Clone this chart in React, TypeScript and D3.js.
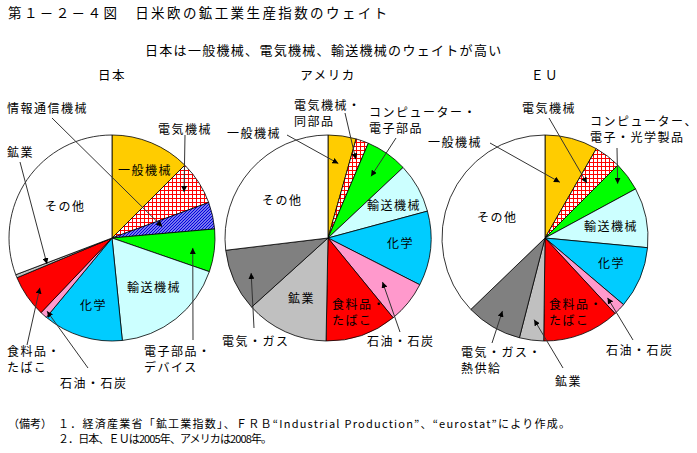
import React from 'react';
import * as d3 from 'd3';

// ---------- data ----------
const japanCategories = ['一般機械', '電気機械', '情報通信機械', '電子部品・デバイス', '輸送機械', '化学', '石油・石炭', '食料品・たばこ', '鉱業', 'その他'];
const japanValues = [12.5, 6.9, 4.2, 6.7, 18.1, 12.6, 1.1, 6.6, 0.5, 30.8];

const usCategories = ['一般機械', '電気機械・同部品', 'コンピューター・電子部品', '輸送機械', '化学', '石油・石炭', '食料品・たばこ', '鉱業', '電気・ガス', 'その他'];
const usValues = [4.4, 2.0, 6.6, 7.8, 11.7, 6.6, 11.2, 13.0, 9.8, 26.9];

const euCategories = ['一般機械', '電気機械', 'コンピューター、電子・光学製品', '輸送機械', '化学', '石油・石炭', '食料品・たばこ', '鉱業', '電気・ガス・熱供給', 'その他'];
const euValues = [8.3, 4.2, 4.6, 9.4, 9.7, 1.9, 12.1, 3.8, 8.8, 37.2];

const pieTitles = ['日本', 'アメリカ', 'ＥＵ'];
const chartTitle = '第１－２－４図　日米欧の鉱工業生産指数のウェイト';
const chartSubtitle = '日本は一般機械、電気機械、輸送機械のウェイトが高い';
const noteLines = [
  '１．経済産業省「鉱工業指数」、ＦＲＢ“Industrial Production”、“eurostat”により作成。',
  '２．日本、ＥＵは2005年、アメリカは2008年。',
];

// ---------- style ----------
const FONT = "'Noto Sans CJK JP', 'Noto Sans', sans-serif";
const R = 103;

function fillFor(cat: string): string {
  if (cat === '一般機械') return '#FFCC00';
  if (cat.startsWith('電気機械')) return 'url(#redgrid)';
  if (cat === '情報通信機械') return 'url(#bluediag)';
  if (cat.startsWith('電子部品') || cat.startsWith('コンピューター')) return '#00FF00';
  if (cat === '輸送機械') return '#CCFFFF';
  if (cat === '化学') return '#00CCFF';
  if (cat === '石油・石炭') return '#FF99CC';
  if (cat === '食料品・たばこ') return '#FF0000';
  if (cat === '鉱業') return '#C0C0C0';
  if (cat.startsWith('電気・ガス')) return '#808080';
  return '#FFFFFF';
}

type Label = {
  cat: string;
  lines: string[];
  dx: number;
  dy: number;
  leader?: { sx: number; sy: number; rf: number };
};

const japanLabels: Label[] = [
  { cat: '情報通信機械', lines: ['情報通信機械'], dx: -105, dy: -125, leader: { sx: -60, sy: -120, rf: 0.5 } },
  { cat: '電気機械', lines: ['電気機械'], dx: 46, dy: -104, leader: { sx: 73, sy: -103, rf: 0.83 } },
  { cat: '鉱業', lines: ['鉱業'], dx: -105, dy: -81, leader: { sx: -92, sy: -76, rf: 0.68 } },
  { cat: '一般機械', lines: ['一般機械'], dx: 6, dy: -63 },
  { cat: 'その他', lines: ['その他'], dx: -67, dy: -27 },
  { cat: '輸送機械', lines: ['輸送機械'], dx: 15, dy: 54 },
  { cat: '化学', lines: ['化学'], dx: -32, dy: 72 },
  { cat: '食料品・たばこ', lines: ['食料品・', 'たばこ'], dx: -105, dy: 118, leader: { sx: -85, sy: 107, rf: 0.85 } },
  { cat: '石油・石炭', lines: ['石油・石炭'], dx: -52, dy: 150, leader: { sx: -24, sy: 130, rf: 0.95 } },
  { cat: '電子部品・デバイス', lines: ['電子部品・', 'デバイス'], dx: 32, dy: 118, leader: { sx: 81, sy: 102, rf: 0.79 } },
];

const usLabels: Label[] = [
  { cat: '電気機械・同部品', lines: ['電気機械・', '同部品'], dx: -34, dy: -128, leader: { sx: 17, sy: -125, rf: 0.81 } },
  { cat: 'コンピューター・電子部品', lines: ['コンピューター・', '電子部品'], dx: 41, dy: -121, leader: { sx: 68, sy: -100, rf: 0.73 } },
  { cat: '一般機械', lines: ['一般機械'], dx: -101, dy: -100, leader: { sx: -41, sy: -103, rf: 0.73 } },
  { cat: 'その他', lines: ['その他'], dx: -66, dy: -33 },
  { cat: '輸送機械', lines: ['輸送機械'], dx: 39, dy: -28 },
  { cat: '化学', lines: ['化学'], dx: 59, dy: 10 },
  { cat: '鉱業', lines: ['鉱業'], dx: -40, dy: 65 },
  { cat: '食料品・たばこ', lines: ['食料品・', 'たばこ'], dx: 4, dy: 71 },
  { cat: '電気・ガス', lines: ['電気・ガス'], dx: -106, dy: 108, leader: { sx: -74, sy: 90, rf: 0.82 } },
  { cat: '石油・石炭', lines: ['石油・石炭'], dx: 39, dy: 108, leader: { sx: 72, sy: 94, rf: 0.68 } },
];

const euLabels: Label[] = [
  { cat: '電気機械', lines: ['電気機械'], dx: -23, dy: -125, leader: { sx: 4, sy: -120, rf: 0.67 } },
  { cat: 'コンピューター、電子・光学製品', lines: ['コンピューター、', '電子・光学製品'], dx: 45, dy: -112, leader: { sx: 72, sy: -90, rf: 0.88 } },
  { cat: '一般機械', lines: ['一般機械'], dx: -117, dy: -91, leader: { sx: -55, sy: -95, rf: 0.56 } },
  { cat: 'その他', lines: ['その他'], dx: -68, dy: -16 },
  { cat: '輸送機械', lines: ['輸送機械'], dx: 39, dy: -7 },
  { cat: '化学', lines: ['化学'], dx: 53, dy: 30 },
  { cat: '食料品・たばこ', lines: ['食料品・', 'たばこ'], dx: 4, dy: 71 },
  { cat: '石油・石炭', lines: ['石油・石炭'], dx: 61, dy: 117, leader: { sx: 88, sy: 102, rf: 0.84 } },
  { cat: '電気・ガス・熱供給', lines: ['電気・ガス・', '熱供給'], dx: -84, dy: 119, leader: { sx: -53, sy: 105, rf: 0.82 } },
  { cat: '鉱業', lines: ['鉱業'], dx: 10, dy: 148, leader: { sx: 18, sy: 130, rf: 0.8 } },
];

const LABEL_FS = 12;
const LABEL_LS = 1.5;

function PieChart(props: { cx: number; cy: number; title: string; categories: string[]; values: number[]; labels: Label[] }) {
  const { cx, cy, title, categories, values, labels } = props;
  const pieGen = d3.pie<number>().sort(null).value((d) => d).startAngle(0).endAngle(2 * Math.PI);
  const arcs = pieGen(values);
  const arcGen = d3.arc<d3.PieArcDatum<number>>().innerRadius(0).outerRadius(R);
  const midAngle = (cat: string) => {
    const i = categories.indexOf(cat);
    const a = arcs[i];
    return (a.startAngle + a.endAngle) / 2;
  };
  return (
    <g>
      <text x={cx} y={80} textAnchor="middle" fontSize={12.5} fontFamily={FONT} letterSpacing={1.5}>{title}</text>
      <g transform={`translate(${cx},${cy})`}>
        {arcs.map((a, i) => (
          <path key={i} d={arcGen(a) || ''} fill={fillFor(categories[i])} stroke="#000" strokeWidth={0.8} />
        ))}
        {labels.map((l, i) => {
          if (!l.leader) return null;
          const ang = midAngle(l.cat);
          const tx = Math.sin(ang) * R * l.leader.rf;
          const ty = -Math.cos(ang) * R * l.leader.rf;
          return (
            <line key={'l' + i} x1={l.leader.sx} y1={l.leader.sy} x2={tx} y2={ty} stroke="#333" strokeWidth={1} markerEnd="url(#arrow)" />
          );
        })}
        {labels.map((l, i) => (
          <text key={'t' + i} x={l.dx} y={l.dy} fontSize={LABEL_FS} fontFamily={FONT} letterSpacing={LABEL_LS} fill="#000">
            {l.lines.map((s, j) => (
              <tspan key={j} x={l.dx} dy={j === 0 ? 0 : 15.5}>{s}</tspan>
            ))}
          </text>
        ))}
      </g>
    </g>
  );
}

export default function App() {
  return (
    <svg width={697} height={453} style={{ position: 'absolute', left: 0, top: 0, background: '#fff' }} xmlns="http://www.w3.org/2000/svg">
      <defs>
        <pattern id="redgrid" patternUnits="userSpaceOnUse" width={4} height={4}>
          <rect width={4} height={4} fill="#fff" />
          <path d="M0,0.5 H4 M0.5,0 V4" stroke="#FF0000" strokeWidth={1} />
        </pattern>
        <pattern id="bluediag" patternUnits="userSpaceOnUse" width={3} height={3}>
          <rect width={3} height={3} fill="#fff" />
          <path d="M-1,1 L1,-1 M0,3 L3,0 M2,4 L4,2" stroke="#0000DD" strokeWidth={1.5} />
        </pattern>
        <marker id="arrow" viewBox="0 0 10 10" refX={10} refY={5} markerWidth={6} markerHeight={6} markerUnits="userSpaceOnUse" orient="auto">
          <path d="M0,0 L10,5 L0,10 z" fill="#000" />
        </marker>
      </defs>
      <rect width={697} height={453} fill="#fff" />
      <text x={8} y={18} fontSize={13.5} fontFamily={FONT} letterSpacing={2.4}>{chartTitle}</text>
      <text x={145} y={55} fontSize={13} fontFamily={FONT} letterSpacing={1.3}>{chartSubtitle}</text>

      <PieChart cx={112} cy={238} title={pieTitles[0]} categories={japanCategories} values={japanValues} labels={japanLabels} />
      <PieChart cx={328} cy={238} title={pieTitles[1]} categories={usCategories} values={usValues} labels={usLabels} />
      <PieChart cx={545} cy={238} title={pieTitles[2]} categories={euCategories} values={euValues} labels={euLabels} />

      <text x={8} y={428} fontSize={11} fontFamily={FONT}>（備考）</text>
      <text x={58} y={428} fontSize={11} fontFamily={FONT} textLength={512} lengthAdjust="spacing">{noteLines[0]}</text>
      <text x={58} y={443} fontSize={11} fontFamily={FONT} textLength={214} lengthAdjust="spacing">{noteLines[1]}</text>
    </svg>
  );
}
